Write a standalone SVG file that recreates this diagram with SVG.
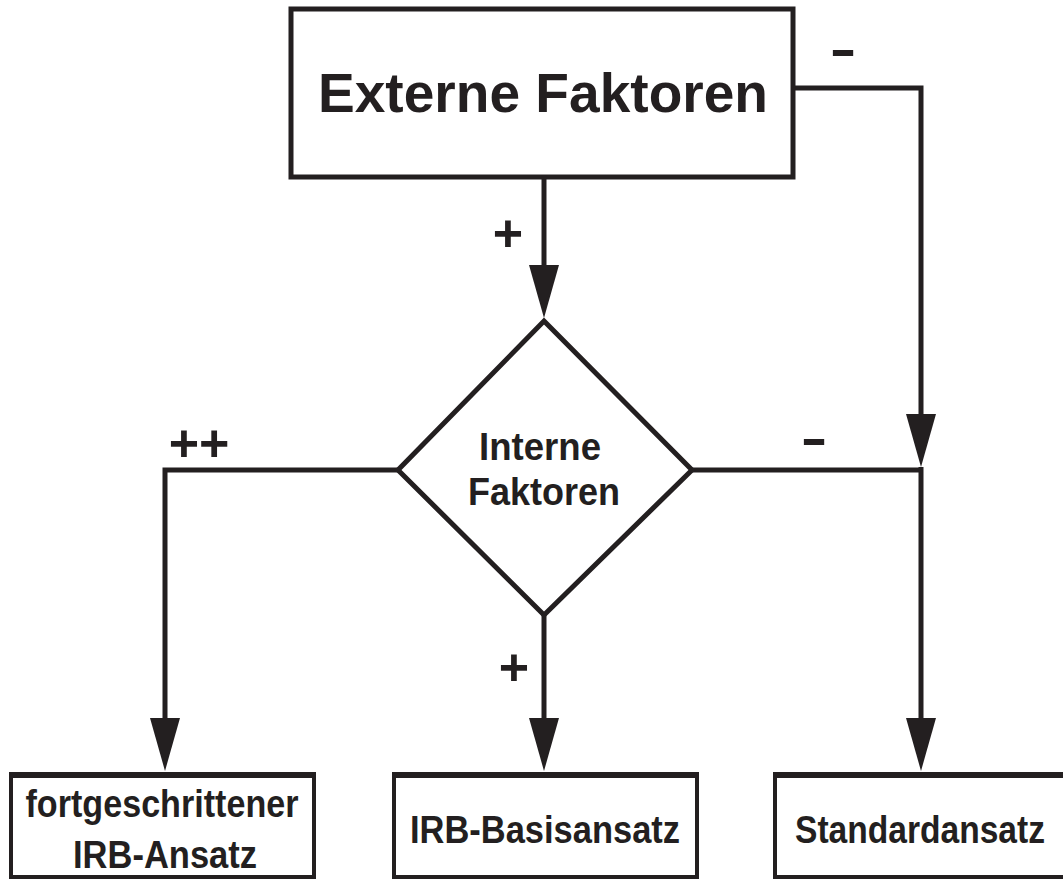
<svg xmlns="http://www.w3.org/2000/svg" width="1063" height="879" viewBox="0 0 1063 879">
  <style>
    .box { fill: #ffffff; stroke: #231f20; stroke-width: 5; }
    .leaf { fill: #ffffff; stroke: #231f20; stroke-width: 4; }
    .leaftop { stroke: #231f20; stroke-width: 6; fill: none; }
    .wire { fill: none; stroke: #231f20; stroke-width: 5; stroke-linejoin: miter; stroke-linecap: butt; }
    .head { fill: #231f20; stroke: none; }
    text { font-family: "Liberation Sans", Arial, Helvetica, sans-serif; font-weight: bold; fill: #231f20; text-anchor: middle; }
    .sign { font-size: 52px; }
    .dash { font-size: 50px; }
    .label { font-size: 38px; }
  </style>
  <defs>
    <!-- filled arrowhead, tip at origin pointing down -->
    <polygon id="arrowhead" class="head" points="-15,-53 15,-53 0,0"/>
  </defs>

  <rect width="1063" height="879" fill="#ffffff"/>

  <!-- connectors -->
  <g id="connectors">
    <!-- Externe Faktoren -> Interne Faktoren -->
    <path class="wire" d="M544,177 V270"/>
    <use href="#arrowhead" x="544" y="318"/>
    <!-- Externe Faktoren -> right trunk -->
    <path class="wire" d="M793,88 H921 V420"/>
    <use href="#arrowhead" x="921" y="467"/>
    <!-- Interne Faktoren -> right trunk -->
    <path class="wire" d="M692,470 H923"/>
    <!-- right trunk -> Standardansatz -->
    <path class="wire" d="M921,467 V725"/>
    <use href="#arrowhead" x="921" y="771"/>
    <!-- Interne Faktoren -> fortgeschrittener IRB-Ansatz -->
    <path class="wire" d="M398,470 H165 V725"/>
    <use href="#arrowhead" x="165" y="771"/>
    <!-- Interne Faktoren -> IRB-Basisansatz -->
    <path class="wire" d="M544,614 V725"/>
    <use href="#arrowhead" x="544" y="771"/>

    <!-- edge labels -->
    <text class="sign" x="508" y="251">+</text>
    <text class="sign" x="514" y="685">+</text>
    <text class="sign" x="199" y="461">++</text>
    <text class="dash" x="843" y="66" transform="translate(843 0) scale(1.6 1) translate(-843 0)">-</text>
    <text class="dash" x="814" y="455" transform="translate(814 0) scale(1.6 1) translate(-814 0)">-</text>
  </g>

  <!-- top box -->
  <g id="externe-faktoren">
    <rect class="box" x="291" y="9" width="502" height="168"/>
    <text x="543" y="112" font-size="56" textLength="450" lengthAdjust="spacingAndGlyphs">Externe Faktoren</text>
  </g>

  <!-- decision diamond -->
  <g id="interne-faktoren">
    <polygon class="box" points="544,321 692,470 544,615 398,470" stroke-width="5"/>
    <text class="label" x="540" y="460" textLength="122" lengthAdjust="spacingAndGlyphs">Interne</text>
    <text class="label" x="544" y="505" textLength="152" lengthAdjust="spacingAndGlyphs">Faktoren</text>
  </g>

  <!-- outcome boxes -->
  <g id="fortgeschrittener-irb">
    <rect class="leaf" x="11" y="775" width="303" height="102"/>
    <path class="leaftop" d="M9,775 H316"/>
    <text class="label" x="162" y="817" textLength="273" lengthAdjust="spacingAndGlyphs">fortgeschrittener</text>
    <text class="label" x="165" y="868" textLength="184" lengthAdjust="spacingAndGlyphs">IRB-Ansatz</text>
  </g>

  <g id="irb-basis">
    <rect class="leaf" x="394" y="775" width="303" height="102"/>
    <path class="leaftop" d="M392,775 H699"/>
    <text class="label" x="545" y="843" textLength="270" lengthAdjust="spacingAndGlyphs">IRB-Basisansatz</text>
  </g>

  <g id="standardansatz">
    <!-- box runs on past the right edge, so only three sides are drawn -->
    <path class="leaf" d="M1063,877 H775 V775 H1063"/>
    <path class="leaftop" d="M773,775 H1063"/>
    <text class="label" x="920" y="843" textLength="250" lengthAdjust="spacingAndGlyphs">Standardansatz</text>
  </g>
</svg>
